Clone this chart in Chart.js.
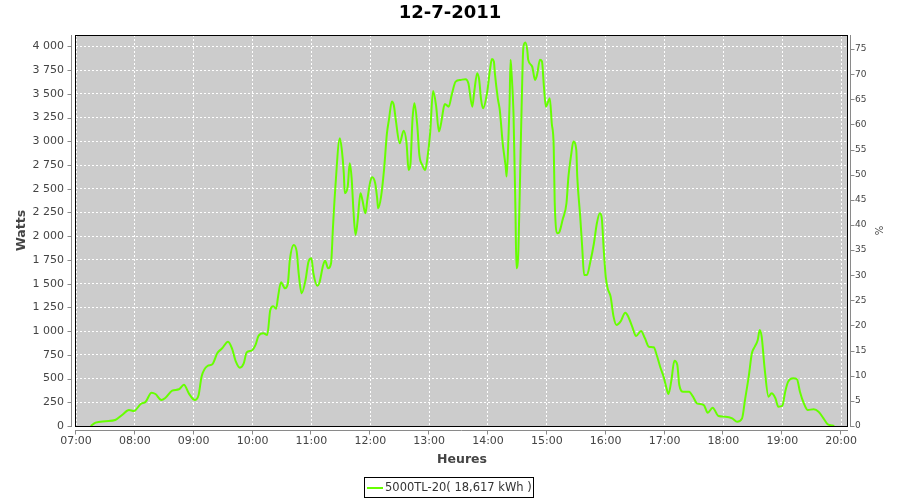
<!DOCTYPE html>
<html>
<head>
<meta charset="utf-8">
<script src="https://cdn.jsdelivr.net/npm/chart.js@4.4.1/dist/chart.umd.min.js"></script>
<style>
html,body{margin:0;padding:0;background:#fff;}
#wrap{position:relative;width:900px;height:500px;}
</style>
</head>
<body>
<div id="wrap"><canvas id="c" width="900" height="500"></canvas></div>
<script>
const chartTitle = '12-7-2011';
const seriesName = '5000TL-20( 18,617 kWh )';
const xTitle = 'Heures';
const yTitle = 'Watts';
const y2Title = '%';

const hourTicks = ['07:00','08:00','09:00','10:00','11:00','12:00','13:00','14:00','15:00','16:00','17:00','18:00','19:00','20:00'];
const wattTicks = [0,250,500,750,1000,1250,1500,1750,2000,2250,2500,2750,3000,3250,3500,3750,4000];
const wattTickLabels = ['0','250','500','750','1 000','1 250','1 500','1 750','2 000','2 250','2 500','2 750','3 000','3 250','3 500','3 750','4 000'];
const pctTicks = [0,5,10,15,20,25,30,35,40,45,50,55,60,65,70,75];

const times = [
'07:15','07:20','07:30','07:40','07:47','07:54','07:59','08:06','08:11','08:17',
'08:21','08:27','08:31','08:38','08:45','08:50','08:55','09:01','09:05','09:08',
'09:14','09:19','09:24','09:29','09:35','09:39','09:43','09:47','09:51','09:54',
'09:59','10:03','10:06','10:11','10:15','10:18','10:21','10:24','10:26','10:29',
'10:33','10:36','10:38','10:42','10:45','10:47','10:50','10:54','10:57','11:00',
'11:02','11:06','11:08','11:12','11:14','11:17','11:20','11:22','11:24','11:29',
'11:31','11:33','11:34','11:37','11:39','11:41','11:43','11:45','11:47','11:50',
'11:52','11:55','11:57','12:00','12:02','12:05','12:07','12:08','12:11','12:14',
'12:17','12:19','12:22','12:24','12:26','12:30','12:34','12:37','12:39','12:41',
'12:43','12:45','12:48','12:50','12:53','12:56','12:58','13:01','13:04','13:07',
'13:10','13:12','13:15','13:16','13:20','13:23','13:27','13:32','13:37','13:40',
'13:44','13:46','13:49','13:51','13:53','13:55','13:59','14:02','14:04','14:06',
'14:07','14:10','14:12','14:15','14:18','14:19','14:21','14:22','14:23','14:24',
'14:26','14:28','14:29','14:31','14:33','14:35','14:36','14:38','14:40','14:41',
'14:45','14:48','14:50','14:53','14:55','14:57','14:59','15:02','15:03','15:05',
'15:07','15:08','15:11','15:13','15:16','15:20','15:22','15:25','15:27','15:30',
'15:31','15:34','15:36','15:38','15:41','15:44','15:48','15:51','15:54','15:56',
'15:58','16:00','16:02','16:05','16:08','16:11','16:15','16:20','16:23','16:27',
'16:31','16:36','16:40','16:44','16:49','16:52','16:56','16:59','17:02','17:04',
'17:07','17:10','17:13','17:15','17:19','17:25','17:29','17:33','17:40','17:44',
'17:49','17:55','18:02','18:09','18:14','18:19','18:22','18:26','18:29','18:32',
'18:35','18:37','18:39','18:42','18:46','18:49','18:53','18:56','19:00','19:03',
'19:06','19:11','19:15','19:18','19:22','19:26','19:32','19:37','19:42','19:46',
'19:51','19:53'
];
const watts = [
0,35,50,63,116,169,158,232,256,351,
337,274,295,372,387,435,344,274,327,520,
632,650,766,819,889,819,678,615,660,776,
794,854,949,977,959,1220,1262,1235,1363,1515,
1451,1504,1750,1908,1837,1609,1398,1539,1731,1767,
1609,1479,1504,1697,1742,1662,1715,2100,2453,3032,
2909,2663,2453,2522,2768,2610,2241,2013,2153,2453,
2382,2241,2382,2575,2621,2558,2400,2294,2417,2698,
3085,3225,3420,3380,3225,2979,3112,2979,2698,2768,
3225,3400,3155,2856,2751,2698,2804,3085,3530,3380,
3102,3180,3365,3394,3365,3489,3629,3647,3654,3612,
3365,3524,3718,3647,3436,3348,3506,3753,3866,3841,
3718,3453,3330,2979,2733,2628,3085,3401,3860,3718,
3296,2259,1662,1855,2768,3683,3982,4041,3964,3858,
3788,3647,3700,3858,3841,3577,3365,3436,3453,3190,
2944,2364,2031,2048,2171,2347,2628,2874,2997,2909,
2628,2206,1890,1592,1592,1715,1926,2136,2241,2189,
1855,1574,1450,1363,1152,1064,1099,1194,1152,1046,
949,1001,924,836,829,748,608,520,397,337,
485,688,643,432,362,362,309,239,221,140,
193,105,98,81,45,81,274,537,766,836,
906,1012,941,608,309,344,292,204,211,362,
467,502,492,362,239,169,176,151,81,21,
5,0
];

function toH(t){ const p = t.split(':'); return +p[0] + (+p[1])/60; }

const FONT = "'DejaVu Sans', sans-serif";
const GREEN = '#66ff00';

const framePlugin = {
  id: 'frame',
  beforeDraw(chart){
    const {ctx, chartArea:a} = chart;
    ctx.save();
    ctx.fillStyle = '#cccccc';
    ctx.fillRect(a.left, a.top, a.right - a.left, a.bottom - a.top);
    ctx.restore();
  },
  afterDatasetsDraw(chart){
    const {ctx, chartArea:a} = chart;
    ctx.save();
    ctx.strokeStyle = '#000';
    ctx.lineWidth = 1;
    ctx.strokeRect(a.left - 0.5, a.top + 0.5, a.right - a.left, a.bottom - a.top);
    ctx.restore();
  },
  afterDraw(chart){
    const {ctx, chartArea:a} = chart;
    const sx = chart.scales.x, sy = chart.scales.y, sy2 = chart.scales.y1;
    ctx.save();
    ctx.strokeStyle = '#8a8a8a';
    ctx.lineWidth = 1;
    ctx.beginPath();
    // left axis
    const lx = a.left - 4.5;
    ctx.moveTo(lx, a.top); ctx.lineTo(lx, a.bottom + 1);
    sy.ticks.forEach(t => { const p = Math.round(sy.getPixelForValue(t.value)) + 0.5; ctx.moveTo(lx, p); ctx.lineTo(lx - 4, p); });
    // right axis
    const rx = a.right + 2.5;
    ctx.moveTo(rx, a.top); ctx.lineTo(rx, a.bottom + 1);
    sy2.ticks.forEach(t => { const p = Math.round(sy2.getPixelForValue(t.value)) + 0.5; ctx.moveTo(rx, p); ctx.lineTo(rx + 4, p); });
    // bottom axis
    const by = a.bottom + 4.5;
    ctx.moveTo(a.left - 1, by); ctx.lineTo(a.right, by);
    sx.ticks.forEach(t => { const p = Math.round(sx.getPixelForValue(t.value)) - 0.5; ctx.moveTo(p, by); ctx.lineTo(p, by + 4); });
    ctx.stroke();

    // axis titles
    ctx.fillStyle = '#444';
    ctx.textAlign = 'center';
    ctx.textBaseline = 'middle';
    ctx.font = "bold 12.5px " + FONT;
    ctx.fillText(xTitle, (a.left + a.right) / 2, 460);
    ctx.save();
    ctx.translate(22, (a.top + a.bottom) / 2);
    ctx.rotate(-Math.PI / 2);
    ctx.fillText(yTitle, 0, 0);
    ctx.restore();
    ctx.save();
    ctx.font = "10px " + FONT;
    ctx.translate(880, (a.top + a.bottom) / 2);
    ctx.rotate(-Math.PI / 2);
    ctx.fillText(y2Title, 0, 0);
    ctx.restore();

    // legend
    ctx.strokeStyle = '#000';
    ctx.lineWidth = 1;
    ctx.strokeRect(364.5, 477.5, 169, 20);
    ctx.strokeStyle = GREEN;
    ctx.lineWidth = 2;
    ctx.beginPath();
    ctx.moveTo(367, 488); ctx.lineTo(383, 488);
    ctx.stroke();
    ctx.fillStyle = '#333';
    ctx.textAlign = 'left';
    ctx.font = "11.5px " + FONT;
    ctx.fillText(seriesName, 385, 488);
    ctx.restore();
  }
};

new Chart(document.getElementById('c').getContext('2d'), {
  type: 'line',
  data: {
    datasets: [{
      label: seriesName,
      data: times.map((t, i) => ({x: toH(t), y: watts[i]})),
      borderColor: GREEN,
      backgroundColor: GREEN,
      borderWidth: 2,
      pointRadius: 0,
      fill: false,
      cubicInterpolationMode: 'monotone',
      yAxisID: 'y'
    }]
  },
  options: {
    responsive: false,
    animation: false,
    devicePixelRatio: 1,
    layout: {padding: 0},
    plugins: {
      legend: {display: false},
      tooltip: {enabled: false},
      title: {
        display: true,
        text: chartTitle,
        color: '#000',
        font: {family: FONT, size: 18, weight: 'bold'},
        padding: {top: 3, bottom: 10.4}
      }
    },
    scales: {
      x: {
        type: 'linear',
        min: toH(hourTicks[0]),
        max: toH('20:07'),
        afterBuildTicks: s => { s.ticks = hourTicks.map(h => ({value: toH(h)})); },
        afterFit: s => { s.height = 74; },
        ticks: {
          autoSkip: false, maxRotation: 0, padding: 9,
          color: '#444', font: {family: FONT, size: 11},
          callback: (v, i) => hourTicks[i]
        },
        grid: {color: '#ffffff', lineWidth: 1, drawTicks: false},
        border: {display: false, dash: [2, 2]}
      },
      y: {
        position: 'left',
        min: 0, max: 4120,
        afterBuildTicks: s => { s.ticks = wattTicks.map(v => ({value: v})); },
        afterFit: s => { s.width = 76; },
        ticks: {
          padding: 12, color: '#444', font: {family: FONT, size: 11},
          callback: (v, i) => wattTickLabels[i]
        },
        grid: {color: '#ffffff', lineWidth: 1, drawTicks: false},
        border: {display: false, dash: [2, 2]}
      },
      y1: {
        position: 'right',
        min: 0, max: 77.8,
        afterBuildTicks: s => { s.ticks = pctTicks.map(v => ({value: v})); },
        afterFit: s => { s.width = 52; },
        ticks: {
          padding: 7, color: '#444', font: {family: FONT, size: 9},
          callback: (v, i) => String(pctTicks[i])
        },
        grid: {display: false, drawTicks: false},
        border: {display: false}
      }
    }
  },
  plugins: [framePlugin]
});
</script>
</body>
</html>
